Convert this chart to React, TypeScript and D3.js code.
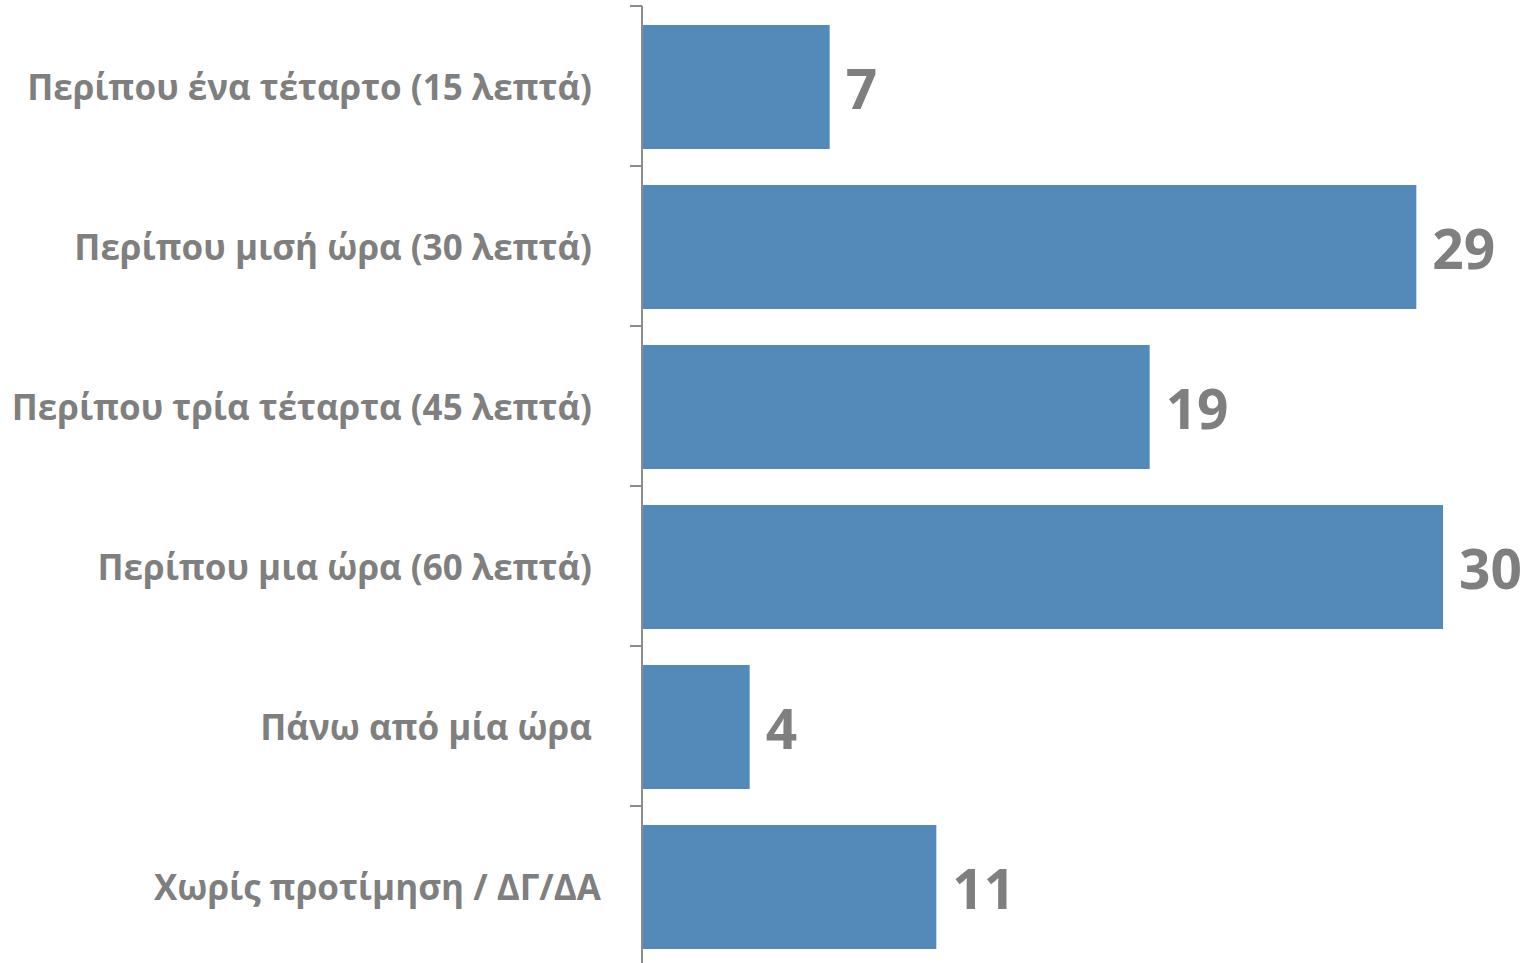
import React from "react";
import * as d3 from "d3";

const categories = [
  "Περίπου ένα τέταρτο (15 λεπτά)\u00A0",
  "Περίπου μισή ώρα (30 λεπτά)\u00A0",
  "Περίπου τρία τέταρτα (45 λεπτά)\u00A0",
  "Περίπου μια ώρα (60 λεπτά)\u00A0",
  "Πάνω από μία ώρα\u00A0",
  "Χωρίς προτίμηση / ΔΓ/ΔΑ",
];
const values = [7, 29, 19, 30, 4, 11];

const W = 1526;
const H = 963;
const axisX = 642;
const top = 6;
const bottom = 966;

export default function App() {
  const x = d3.scaleLinear().domain([0, 30]).range([axisX + 1, 1443]);
  const y = d3
    .scaleBand<string>()
    .domain(categories)
    .range([top + 1, bottom + 1])
    .paddingInner(0.225)
    .paddingOuter(0.1125);
  const step = y.step();
  const boundaries = d3.range(categories.length + 1).map((i) => top + i * step);
  const font = "'Open Sans', sans-serif";
  const gray = "#7f7f7f";
  return (
    <svg
      width={W}
      height={H}
      style={{ position: "absolute", left: 0, top: 0 }}
    >
      {categories.map((c, i) => {
        const by = y(c)!;
        const bh = y.bandwidth();
        return (
          <g key={c}>
            <rect x={x(0)} y={by} width={x(values[i]) - x(0)} height={bh} fill="#548ab9" />
            <text
              x={x(values[i]) + 16}
              y={by + bh / 2}
              dy="0.4em"
              fontFamily={font}
              fontWeight={700}
              fontSize={55}
              fill={gray}
            >
              {values[i]}
            </text>
            <text
              x={601}
              y={by + bh / 2}
              dy="0.36em"
              textAnchor="end"
              fontFamily={font}
              fontWeight={700}
              fontSize={35}
              fill={gray}
              style={{ whiteSpace: "pre" }}
            >
              {c}
            </text>
          </g>
        );
      })}
      <line x1={axisX} x2={axisX} y1={top} y2={H} stroke="#8c8c8c" strokeWidth={2} />
      {boundaries.map((b, i) => (
        <line key={i} x1={axisX - 12} x2={axisX} y1={b} y2={b} stroke="#8c8c8c" strokeWidth={2} />
      ))}
    </svg>
  );
}
